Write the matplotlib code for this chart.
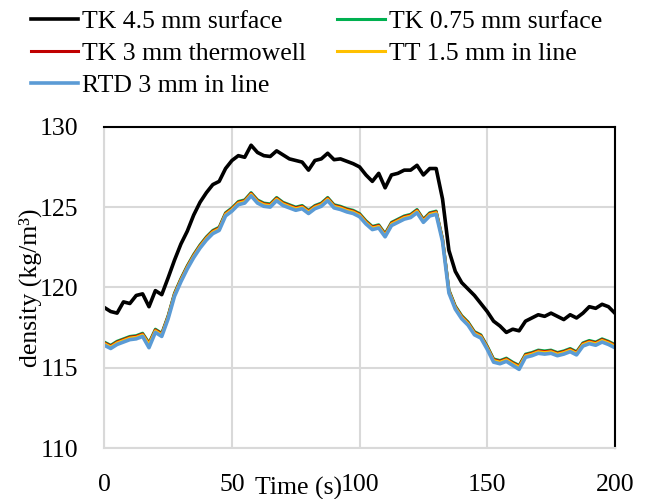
import numpy as np
import matplotlib
matplotlib.use("Agg")
import matplotlib.pyplot as plt

plt.rcParams["font.family"] = ["Liberation Serif", "DejaVu Serif"]

# ============================================================
# Data (time step 2.5 s)
# ============================================================
time_s = np.arange(0, 200.01, 2.5)

tk_45_surface = [
    118.75, 118.5, 118.4, 119.1, 119.0, 119.5, 119.6, 118.8, 119.8, 119.55,
    120.6, 121.7, 122.7, 123.5, 124.5, 125.3, 125.9, 126.4, 126.6, 127.4,
    127.9, 128.2, 128.1, 128.85, 128.4, 128.2, 128.15, 128.5, 128.25, 128.0,
    127.9, 127.8, 127.3, 127.9, 128.0, 128.35, 127.95, 128.0, 127.85, 127.7,
    127.5, 127.0, 126.6, 127.1, 126.2, 127.0, 127.1, 127.3, 127.3, 127.6,
    127.0, 127.4, 127.4, 125.5, 122.3, 121.0, 120.3, 119.9, 119.5, 119.0,
    118.5, 117.9, 117.6, 117.2, 117.4, 117.3, 117.9, 118.1, 118.3, 118.2,
    118.4, 118.2, 118.0, 118.3, 118.1, 118.4, 118.8, 118.7, 118.95, 118.8,
    118.4,
]

tk_075_surface = [
    116.6, 116.4, 116.65, 116.8, 116.95, 117.0, 117.15, 116.55, 117.4, 117.15,
    118.25, 119.65, 120.55, 121.35, 122.05, 122.65, 123.15, 123.55, 123.75, 124.65,
    124.95, 125.35, 125.45, 125.9, 125.45, 125.25, 125.2, 125.6, 125.3, 125.15,
    125.0, 125.1, 124.8, 125.1, 125.25, 125.6, 125.15, 125.05, 124.9, 124.8,
    124.6, 124.15, 123.8, 123.9, 123.35, 124.05, 124.25, 124.45, 124.55, 124.85,
    124.25, 124.65, 124.75, 123.05, 119.85, 118.85, 118.25, 117.85, 117.25, 117.05,
    116.35, 115.55, 115.45, 115.6, 115.35, 115.15, 115.85, 115.95, 116.1, 116.05,
    116.1, 115.95, 116.05, 116.2, 116.0, 116.55, 116.7, 116.6, 116.8, 116.65,
    116.45,
]

tk_3_thermowell = [
    116.55, 116.35, 116.6, 116.75, 116.9, 116.95, 117.1, 116.5, 117.35, 117.1,
    118.2, 119.6, 120.5, 121.3, 122.0, 122.6, 123.1, 123.5, 123.7, 124.6,
    124.9, 125.3, 125.4, 125.85, 125.4, 125.2, 125.15, 125.55, 125.25, 125.1,
    124.95, 125.05, 124.75, 125.05, 125.2, 125.55, 125.1, 125.0, 124.85, 124.75,
    124.55, 124.1, 123.75, 123.85, 123.3, 124.0, 124.2, 124.4, 124.5, 124.8,
    124.2, 124.6, 124.7, 123.0, 119.8, 118.8, 118.2, 117.8, 117.2, 117.0,
    116.3, 115.5, 115.4, 115.55, 115.3, 115.1, 115.8, 115.9, 116.05, 116.0,
    116.05, 115.9, 116.0, 116.15, 115.95, 116.5, 116.65, 116.55, 116.75, 116.6,
    116.4,
]

tt_15_inline = [
    116.5, 116.3, 116.55, 116.7, 116.85, 116.9, 117.05, 116.45, 117.3, 117.05,
    118.15, 119.55, 120.45, 121.25, 121.95, 122.55, 123.05, 123.45, 123.65, 124.55,
    124.85, 125.25, 125.35, 125.8, 125.35, 125.15, 125.1, 125.5, 125.2, 125.05,
    124.9, 125.0, 124.7, 125.0, 125.15, 125.5, 125.05, 124.95, 124.8, 124.7,
    124.5, 124.05, 123.7, 123.8, 123.25, 123.95, 124.15, 124.35, 124.45, 124.75,
    124.15, 124.55, 124.65, 122.95, 119.75, 118.75, 118.15, 117.75, 117.15, 116.95,
    116.25, 115.45, 115.35, 115.5, 115.25, 115.05, 115.75, 115.85, 116.0, 115.95,
    116.0, 115.85, 115.95, 116.1, 115.9, 116.45, 116.6, 116.5, 116.7, 116.55,
    116.35,
]

rtd_3_inline = [
    116.4, 116.2, 116.45, 116.6, 116.75, 116.8, 116.95, 116.25, 117.2, 116.95,
    118.05, 119.45, 120.35, 121.15, 121.85, 122.45, 122.95, 123.35, 123.55, 124.45,
    124.75, 125.15, 125.25, 125.7, 125.25, 125.05, 125.0, 125.4, 125.1, 124.95,
    124.8, 124.9, 124.6, 124.9, 125.05, 125.4, 124.95, 124.85, 124.7, 124.6,
    124.4, 123.95, 123.6, 123.7, 123.15, 123.85, 124.05, 124.25, 124.35, 124.65,
    124.05, 124.45, 124.55, 122.85, 119.65, 118.65, 118.05, 117.65, 117.05, 116.85,
    116.15, 115.35, 115.25, 115.4, 115.15, 114.9, 115.65, 115.75, 115.9, 115.85,
    115.9, 115.75, 115.85, 116.0, 115.8, 116.35, 116.5, 116.4, 116.6, 116.45,
    116.25,
]

FS = 18.5

# ============================================================
# Plot
# ============================================================
fig = plt.figure(figsize=(6.52, 4.99), dpi=100)
ax = fig.add_axes([0.16, 0.102, 0.783, 0.644])

h_black, = ax.plot(time_s, tk_45_surface, color="black", lw=2.6, label="TK 4.5 mm surface")
h_green, = ax.plot(time_s, tk_075_surface, color="#00B050", lw=2.2, label="TK 0.75 mm surface")
h_red, = ax.plot(time_s, tk_3_thermowell, color="#C00000", lw=2.2, label="TK 3 mm thermowell")
h_yellow, = ax.plot(time_s, tt_15_inline, color="#FFC000", lw=2.2, label="TT 1.5 mm in line")
h_blue, = ax.plot(time_s, rtd_3_inline, color="#5B9BD5", lw=2.6, label="RTD 3 mm in line")

ax.set_xlim(0, 200)
ax.set_ylim(110, 130)
ax.set_xticks([0, 50, 100, 150, 200])
ax.set_yticks([110, 115, 120, 125, 130])
ax.grid(True, color="#d9d9d9", lw=1.5)
ax.set_axisbelow(True)
ax.tick_params(length=0, labelsize=FS)
ax.tick_params(axis="x", pad=19)
ax.tick_params(axis="y", pad=19)

for side in ["left", "bottom"]:
    ax.spines[side].set_color("#d9d9d9")
    ax.spines[side].set_linewidth(1.5)
for side in ["top", "right"]:
    ax.spines[side].set_color("black")
    ax.spines[side].set_linewidth(1.5)

ax.set_ylabel("density (kg/m³)", fontsize=FS, labelpad=-2)
ax.text(76, 107.5, "Time (s)", fontsize=FS, ha="center", va="center", clip_on=False)

order = [h_black, h_red, h_blue, h_green, h_yellow]
fig.legend(
    order, [h.get_label() for h in order],
    loc="upper left", bbox_to_anchor=(0.012, 1.027), ncol=2, frameon=False,
    fontsize=FS, handlelength=1.85, handletextpad=0.15, labelspacing=0.36,
    columnspacing=1.2,
)

fig.savefig("out.png", dpi=100)
